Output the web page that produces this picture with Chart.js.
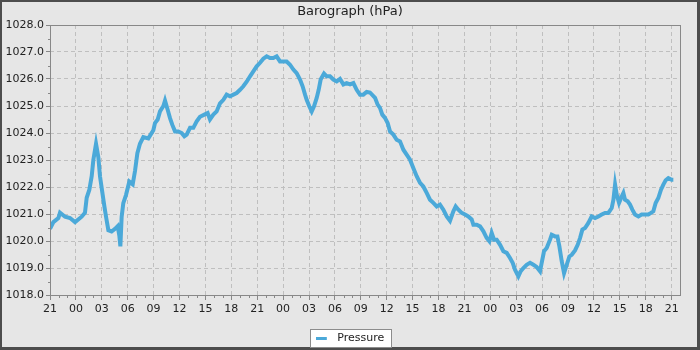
<!DOCTYPE html>
<html>
<head>
<meta charset="utf-8">
<script src="https://cdn.jsdelivr.net/npm/chart.js@4"></script>
<style>
  html, body { margin: 0; padding: 0; background: #e6e6e6; }
  #wrap { width: 700px; height: 350px; }
</style>
</head>
<body>
<div id="wrap"><canvas id="baro" width="700" height="350"></canvas></div>
<script>
// hours since 21:00 on the first day
const startHour = 21;
const hours = [
  0, 0.39, 0.97, 1.16, 1.74, 2.32, 2.9, 3.67, 4.05, 4.25, 4.56, 4.83, 5.02, 5.33, 5.6, 5.79,
  6.06, 6.29, 6.49, 6.76, 7.14, 7.53, 7.84, 8.03, 8.15, 8.3, 8.49, 8.8, 9.19, 9.58, 9.85,
  10.12, 10.42, 10.81, 11.39, 11.97,
  12.16, 12.47, 12.74, 13.13, 13.32, 13.63, 13.9, 14.17, 14.48, 14.86, 15.25, 15.56, 15.83,
  16.22, 16.6, 16.99, 17.37, 17.88, 18.26, 18.53, 18.92, 19.3, 19.69, 20.08, 20.46, 20.85,
  21.24, 21.62, 22.01, 22.39, 22.78, 23.17, 23.55, 23.94,
  24.33, 24.71, 25.1, 25.48, 25.87, 26.25, 26.64, 27.03, 27.41, 27.8, 28.19, 28.57, 28.96,
  29.26, 29.54, 29.73, 30.03, 30.31, 30.58, 30.89, 31.12, 31.35, 31.74, 32.05, 32.43, 32.82,
  33.21, 33.59, 33.98, 34.36, 34.75, 35.14, 35.52, 35.91, 36.29, 36.68, 37.06,
  37.65, 37.95, 38.22, 38.49, 38.8, 39.11, 39.38, 39.77, 40.15, 40.54, 40.93, 41.31, 41.7,
  42.08, 42.47, 42.86, 43.24, 43.63, 44.01, 44.4, 44.79, 45.17, 45.56, 45.95, 46.33, 46.72,
  46.99, 47.3, 47.68, 48.07, 48.45,
  48.84, 49.04, 49.42, 49.81, 50.2, 50.58, 50.89, 51.16, 51.43, 51.74, 52.13, 52.51, 52.9,
  53.28, 53.59, 53.86, 54.25, 54.52, 54.83, 55.21, 55.6, 55.99, 56.37, 56.76, 56.95, 57.22,
  57.53, 57.92, 58.11, 58.5, 58.77, 59.0, 59.27, 59.54, 59.85, 60.16, 60.43, 60.81,
  61.12, 61.39, 61.66, 61.97, 62.36, 62.74, 63.13, 63.52, 63.9, 64.29, 64.67, 65.06, 65.26,
  65.45, 65.64, 65.91, 66.22, 66.41, 66.6, 66.91, 67.18, 67.45, 67.76, 68.15, 68.53, 68.92,
  69.3, 69.61, 69.88, 70.15, 70.46, 70.77, 71.04, 71.31, 71.62, 72.0, 72.2
];
const pressure = [
  1020.45, 1020.7, 1020.85, 1021.05, 1020.9, 1020.85, 1020.7, 1020.9, 1021.05, 1021.6, 1021.9, 1022.4, 1023.0, 1023.6, 1023.1, 1022.4,
  1021.8, 1021.3, 1020.9, 1020.4, 1020.35, 1020.45, 1020.55, 1020.2, 1019.8, 1020.9, 1021.4, 1021.7, 1022.2, 1022.1, 1022.6,
  1023.25, 1023.6, 1023.85, 1023.8, 1024.1,
  1024.37, 1024.5, 1024.8, 1025.0, 1025.2, 1024.86, 1024.55, 1024.3, 1024.06, 1024.06, 1024.0, 1023.88, 1023.94,
  1024.19, 1024.19, 1024.43, 1024.6, 1024.68, 1024.74, 1024.5, 1024.68, 1024.8, 1025.1, 1025.23, 1025.42, 1025.36,
  1025.42, 1025.48, 1025.6, 1025.73, 1025.9, 1026.1, 1026.28, 1026.47,
  1026.6, 1026.75, 1026.84, 1026.78, 1026.78, 1026.84, 1026.65, 1026.65, 1026.65, 1026.53, 1026.35, 1026.22, 1025.98,
  1025.73, 1025.42, 1025.23, 1024.99, 1024.8, 1024.99, 1025.3, 1025.6, 1025.98, 1026.2, 1026.1, 1026.1, 1025.98,
  1025.91, 1026.0, 1025.8, 1025.85, 1025.8, 1025.85, 1025.6, 1025.42, 1025.42, 1025.52, 1025.5,
  1025.3, 1025.05, 1024.93, 1024.68, 1024.56, 1024.37, 1024.06, 1023.94, 1023.75, 1023.69, 1023.38, 1023.2, 1023.01,
  1022.7, 1022.4, 1022.15, 1022.02, 1021.78, 1021.53, 1021.41, 1021.28, 1021.35, 1021.16, 1020.91, 1020.75, 1021.1,
  1021.28, 1021.16, 1021.04, 1020.98, 1020.91,
  1020.8, 1020.6, 1020.6, 1020.54, 1020.36, 1020.11, 1019.99, 1020.3, 1020.05, 1020.05, 1019.86, 1019.62, 1019.56,
  1019.37, 1019.19, 1018.94, 1018.69, 1018.88, 1019.0, 1019.12, 1019.19, 1019.12, 1019.04, 1018.88, 1019.19, 1019.62,
  1019.74, 1020.05, 1020.23, 1020.17, 1020.17, 1019.8, 1019.25, 1018.81, 1019.12, 1019.43, 1019.49, 1019.65,
  1019.86, 1020.11, 1020.42, 1020.48, 1020.67, 1020.91, 1020.85, 1020.91, 1020.98, 1021.04, 1021.04, 1021.22, 1021.53,
  1022.09, 1021.72, 1021.41, 1021.65, 1021.78, 1021.53, 1021.47, 1021.35, 1021.16, 1020.98, 1020.91, 1020.98, 1020.98,
  1020.98, 1021.04, 1021.1, 1021.41, 1021.59, 1021.9, 1022.09, 1022.25, 1022.33, 1022.27, 1022.27
];
const seriesName = 'Pressure';
const chartTitle = 'Barograph (hPa)';
const yMin = 1018, yMax = 1028;
const xMin = 0, xMax = 72.97;

const lineColor = '#4ba9d9';
const axisColor = '#888888';

Chart.defaults.font.family = "'DejaVu Sans', sans-serif";
Chart.defaults.font.size = 11;
Chart.defaults.color = '#222222';

// legend marker: short line, left part of a wider box
const marker = document.createElement('canvas');
marker.width = 16;
marker.height = 3;
const mctx = marker.getContext('2d');
mctx.fillStyle = lineColor;
mctx.fillRect(0, 0, 11, 3);

// background, frame, legend box, minor ticks, plot outline
const decor = {
  id: 'decor',
  afterLayout(chart) {
    // y labels are wider than the axis box, don't clip them
    chart.scales.y.left = 0;
  },
  beforeDraw(chart) {
    const ctx = chart.ctx;
    ctx.save();
    ctx.fillStyle = '#4d4d4d';
    ctx.fillRect(0, 0, chart.width, chart.height);
    ctx.fillStyle = '#e6e6e6';
    ctx.fillRect(2, 2, chart.width - 5, chart.height - 5);
    const lg = chart.legend;
    if (lg && lg.legendHitBoxes && lg.legendHitBoxes.length) {
      const hb = lg.legendHitBoxes[0];
      const x = Math.round(hb.left) - 6 + 0.5;
      const y = Math.round(hb.top) - 4 + 0.5;
      const w = Math.round(hb.width) + 13;
      ctx.fillStyle = '#ffffff';
      ctx.fillRect(x, y, w, 18);
      ctx.strokeStyle = '#8c8c8c';
      ctx.lineWidth = 1;
      ctx.strokeRect(x, y, w, 18);
    }
    ctx.restore();
  },
  afterDraw(chart) {
    const ctx = chart.ctx;
    const a = chart.chartArea;
    const xs = chart.scales.x, ys = chart.scales.y;
    ctx.save();
    ctx.strokeStyle = axisColor;
    ctx.lineWidth = 1;
    ctx.beginPath();
    for (let h = 1; h < xMax; h++) {
      if (h % 3 === 0) continue;
      const px = Math.round(xs.getPixelForValue(h)) + 0.5;
      ctx.moveTo(px, a.bottom);
      ctx.lineTo(px, a.bottom + 3);
    }
    for (let v = yMin + 0.5; v < yMax; v += 1) {
      const py = Math.round(ys.getPixelForValue(v)) + 0.5;
      ctx.moveTo(a.left - 2, py);
      ctx.lineTo(a.left, py);
    }
    ctx.stroke();
    ctx.strokeRect(Math.round(a.left) + 0.5, Math.round(a.top) + 0.5,
      Math.round(a.right - a.left), Math.round(a.bottom - a.top));
    ctx.restore();
  }
};

new Chart(document.getElementById('baro'), {
  type: 'line',
  data: {
    datasets: [{
      label: seriesName,
      data: hours.map((h, i) => ({ x: h, y: pressure[i] })),
      borderColor: lineColor,
      backgroundColor: lineColor,
      borderWidth: 4,
      pointRadius: 0,
      pointStyle: marker,
      tension: 0,
      fill: false
    }]
  },
  options: {
    responsive: false,
    animation: false,
    layout: { padding: { left: 20, right: 20, top: 0, bottom: -4 } },
    plugins: {
      title: {
        display: true,
        text: chartTitle,
        color: '#222222',
        font: { size: 13, weight: 'normal' },
        padding: { top: 3.4, bottom: 6 }
      },
      legend: {
        position: 'bottom',
        labels: {
          usePointStyle: true,
          pointStyleWidth: 16,
          padding: 6,
          color: '#222222',
          font: { size: 11 }
        }
      },
      tooltip: { enabled: false }
    },
    scales: {
      x: {
        type: 'linear',
        min: xMin,
        max: xMax,
        afterFit: s => { s.height = 32; },
        ticks: {
          stepSize: 3,
          includeBounds: false,
          autoSkip: false,
          maxRotation: 0,
          padding: 3,
          color: '#222222',
          callback: v => String((startHour + v) % 24).padStart(2, '0')
        },
        grid: { color: '#bfbfbf', lineWidth: 1, tickLength: 5, tickColor: axisColor, tickBorderDash: [] },
        border: { display: false, dash: [4, 3] }
      },
      y: {
        min: yMin,
        max: yMax,
        afterFit: s => { s.width = 30; },
        ticks: {
          stepSize: 1,
          padding: 2,
          color: '#222222',
          callback: v => v.toFixed(1)
        },
        grid: { color: '#bfbfbf', lineWidth: 1, tickLength: 4, tickColor: axisColor, tickBorderDash: [] },
        border: { display: false, dash: [4, 3] }
      }
    }
  },
  plugins: [decor]
});
</script>
</body>
</html>
